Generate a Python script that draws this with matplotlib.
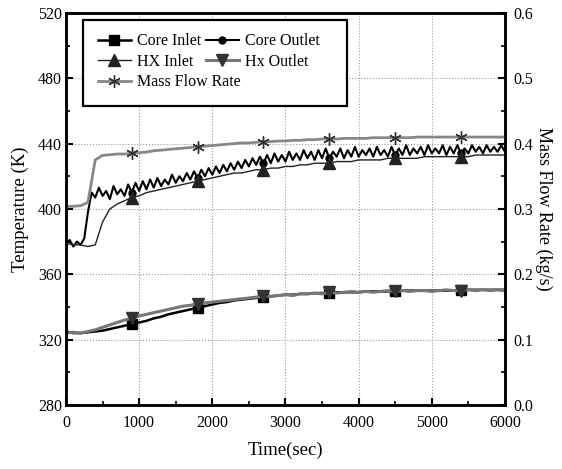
import numpy as np
import matplotlib
matplotlib.use("Agg")
import matplotlib.pyplot as plt
from matplotlib.ticker import MultipleLocator
from matplotlib.patches import Rectangle

plt.rcParams['font.family'] = ['Liberation Serif', 'DejaVu Serif']

# time axis (sec)
time_s = np.arange(0, 6001, 100)
time_fine = np.arange(0, 6001, 50)

core_inlet = [325, 324, 324, 324.5, 325, 325.5, 326.5, 327.5, 328.5, 329.5,
              330.5, 331.5, 333, 334, 335.5, 336.5, 337.5, 338.5, 339.5, 340.5,
              341.5, 342.5, 343, 344, 344.5, 345, 345.5, 346, 346.5, 347,
              347.5, 347.5, 348, 348, 348.5, 348.5, 348.5, 349, 349, 349,
              349, 349.5, 349.5, 349.5, 349.5, 350, 350, 350, 350, 350,
              350, 350, 350, 350, 350.5, 350.5, 350.5, 350.5, 350.5, 350.5, 350.5]

hx_outlet = [324, 324.5, 324, 325, 326, 327.5, 329, 330.5, 332, 333,
             334.5, 335.5, 336.5, 337.5, 338.5, 339.5, 340.5, 341, 342, 342.5,
             343, 343.5, 344, 344.5, 345, 345.5, 346, 346.5, 346.5, 347,
             347.5, 347, 348, 348, 348.5, 348, 349, 348.5, 349, 349.5,
             349, 349.5, 349, 349.5, 350, 349.5, 350, 349.5, 350, 350,
             349.5, 350, 350.5, 350, 350, 350.5, 350, 350.5, 350, 350.5, 350]

hx_inlet = [379, 378, 378, 377, 378, 392, 400, 403, 405, 407,
            408, 410, 411, 412, 413, 414, 415, 416, 417, 418,
            419, 420, 421, 422, 422, 423, 424, 424, 425, 425,
            426, 426, 427, 427, 428, 428, 428, 429, 429, 429,
            430, 430, 430, 430, 431, 431, 431, 431, 431, 432,
            432, 432, 432, 432, 432, 432, 433, 433, 433, 433, 433]

core_outlet = [378, 381, 377, 380, 378, 382, 398, 410, 407, 413,
               408, 411, 406, 414, 409, 412, 408, 415, 410, 416,
               411, 417, 412, 418, 413, 419, 414, 418, 415, 421,
               416, 420, 417, 422, 418, 423, 419, 424, 420, 425,
               421, 426, 422, 427, 423, 428, 424, 429, 425, 430,
               426, 431, 427, 432, 428, 433, 428, 434, 429, 433,
               429, 435, 430, 434, 430, 436, 431, 435, 430, 436,
               431, 437, 431, 435, 432, 437, 431, 436, 432, 438,
               432, 436, 433, 437, 432, 438, 433, 436, 432, 438,
               433, 437, 433, 439, 433, 437, 434, 438, 433, 439,
               434, 437, 434, 439, 433, 438, 434, 439, 434, 437,
               434, 439, 435, 438, 434, 439, 435, 438, 435, 439, 435]

mass_flow = [0.304, 0.304, 0.305, 0.310, 0.375, 0.382, 0.383, 0.384, 0.384, 0.385,
             0.386, 0.387, 0.389, 0.390, 0.391, 0.392, 0.393, 0.394, 0.395, 0.396,
             0.397, 0.398, 0.399, 0.400, 0.401, 0.401, 0.402, 0.403, 0.403, 0.404,
             0.404, 0.405, 0.405, 0.406, 0.406, 0.407, 0.407, 0.407, 0.408, 0.408,
             0.408, 0.408, 0.409, 0.409, 0.409, 0.409, 0.409, 0.409, 0.410, 0.410,
             0.410, 0.410, 0.410, 0.410, 0.410, 0.410, 0.410, 0.410, 0.410, 0.410, 0.410]

# markers every 900 s
mark_idx = [9, 18, 27, 36, 45, 54]
mark_idx_fine = [2 * i for i in mark_idx]

fig = plt.figure(figsize=(5.62, 4.69), dpi=100)
ax = fig.add_axes([0.1174, 0.1365, 0.781, 0.836])
ax2 = ax.twinx()

l1, = ax.plot(time_s, core_inlet, color='black', lw=1.8, marker='s', ms=7,
              markevery=mark_idx, label='Core Inlet')
l4, = ax.plot(time_s, hx_outlet, color='#777777', lw=2.2, marker='v', ms=8,
              mfc='#333333', mec='#333333', markevery=mark_idx, label='Hx Outlet')
l2, = ax.plot(time_fine, core_outlet, color='black', lw=1.5, marker='o', ms=5,
              markevery=mark_idx_fine, label='Core Outlet')
l3, = ax.plot(time_s, hx_inlet, color='#222222', lw=1.0, marker='^', ms=8,
              markevery=mark_idx, label='HX Inlet')
l5, = ax2.plot(time_s, mass_flow, color='#888888', lw=2.0, marker=(6, 2, 0), ms=9,
               mec='#333333', markevery=mark_idx, label='Mass Flow Rate')

ax.set_xlim(0, 6000)
ax.set_ylim(280, 520)
ax2.set_ylim(0.0, 0.6)

ax.xaxis.set_major_locator(MultipleLocator(1000))
ax.xaxis.set_minor_locator(MultipleLocator(500))
ax.yaxis.set_major_locator(MultipleLocator(40))
ax.yaxis.set_minor_locator(MultipleLocator(20))
ax2.yaxis.set_major_locator(MultipleLocator(0.1))
ax2.yaxis.set_minor_locator(MultipleLocator(0.05))
ax2.yaxis.set_major_formatter(plt.FormatStrFormatter('%.1f'))

ax.grid(True, which='major', color='#999999', ls=':', lw=0.8)

for a in (ax, ax2):
    a.tick_params(which='major', direction='in', length=5, width=1.5, labelsize=11.5)
    a.tick_params(which='minor', direction='in', length=3, width=1.2)
    for s in a.spines.values():
        s.set_linewidth(1.8)
ax.tick_params(axis='x', pad=7)
ax.tick_params(axis='y', pad=3)
ax2.tick_params(axis='y', pad=6)

ax.set_xlabel('Time(sec)', fontsize=13.5, labelpad=8)
ax.set_ylabel('Temperature (K)', fontsize=13.5, labelpad=6)
ax2.set_ylabel('Mass Flow Rate (kg/s)', fontsize=13, rotation=270, labelpad=14)

# legend frame and two legend columns (third row runs under column two)
frame = Rectangle((0.038, 0.763), 0.602, 0.219, transform=ax.transAxes,
                  facecolor='white', edgecolor='black', lw=1.6, zorder=5)
ax2.add_patch(frame)
leg_kw = dict(loc='upper left', frameon=False, fontsize=11.5, handlelength=2.1,
              handletextpad=0.35, labelspacing=0.28, borderpad=0, borderaxespad=0)
leg1 = ax2.legend(handles=[l1, l3, l5], bbox_to_anchor=(0.072, 0.948), **leg_kw)
leg1.set_zorder(6)
ax2.add_artist(leg1)
leg2 = ax2.legend(handles=[l2, l4], bbox_to_anchor=(0.318, 0.948), **leg_kw)
leg2.set_zorder(6)

fig.savefig('out.png', dpi=100)
